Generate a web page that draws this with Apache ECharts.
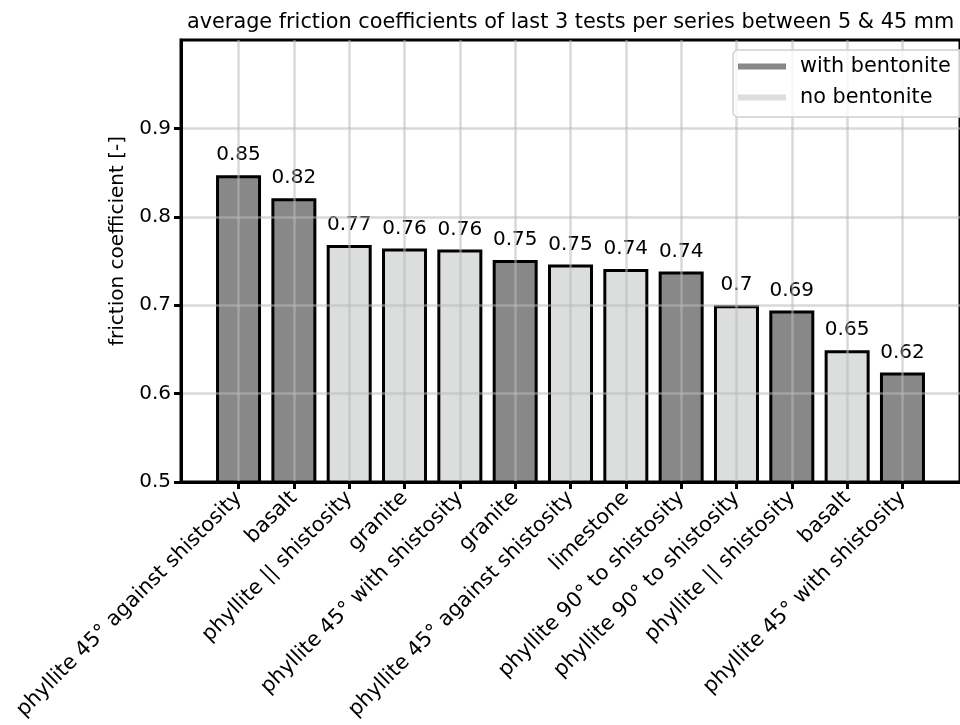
<!DOCTYPE html>
<html>
<head>
<meta charset="utf-8">
<script src="https://cdn.jsdelivr.net/npm/echarts@6/dist/echarts.min.js"></script>
<style>html,body{margin:0;padding:0;background:#fff;}#c{width:960px;height:725px;}</style>
</head>
<body>
<div id="c"></div>
<script>
const categories = [
  "phyllite 45° against shistosity", "basalt", "phyllite || shistosity", "granite",
  "phyllite 45° with shistosity", "granite", "phyllite 45° against shistosity", "limestone",
  "phyllite 90° to shistosity", "phyllite 90° to shistosity", "phyllite || shistosity", "basalt",
  "phyllite 45° with shistosity"
];
const values = [0.847, 0.821, 0.768, 0.764, 0.763, 0.751, 0.746, 0.741, 0.738, 0.700, 0.694, 0.649, 0.624];
const withBentonite = [true, true, false, false, false, true, false, false, true, false, true, false, true];
const yTicks = [0.5, 0.6, 0.7, 0.8, 0.9];
const titleText = "average friction coefficients of last 3 tests per series between 5 & 45 mm";
const seriesNames = ["with bentonite", "no bentonite"];

const FONT = "DejaVu Sans";
const FS = 20;
const FSL = 20.8;
const GRIDC = "rgba(185,185,185,0.55)";
const tickIdx = categories.map((c, i) => i);

const darkData = [], lightData = [];
values.forEach((v, i) => {
  if (withBentonite[i]) darkData.push([i, v]); else lightData.push([i, v]);
});

const labelCfg = {
  show: true, position: "top", distance: 10, color: "#000",
  fontFamily: FONT, fontSize: FS,
  formatter: p => String(Number(p.value[1].toFixed(2)))
};

const chart = echarts.init(document.getElementById("c"), null, {renderer: "canvas"});
chart.setOption({
  animation: false,
  backgroundColor: "#fff",
  textStyle: {fontFamily: FONT},
  title: {
    text: titleText, left: 187, top: 12, padding: 0,
    textStyle: {fontFamily: FONT, fontSize: FSL, fontWeight: "normal", color: "#000"}
  },
  legend: {
    data: seriesNames, orient: "vertical", left: 733, top: 50,
    padding: [6, 30, 9, 5], itemGap: 10,
    backgroundColor: "rgba(255,255,255,0.8)", borderColor: "#d0d0d0", borderWidth: 1.5, borderRadius: 5,
    icon: "rect", itemWidth: 48, itemHeight: 6,
    itemStyle: {borderWidth: 0},
    textStyle: {fontFamily: FONT, fontSize: FSL, color: "#000", padding: [0, 0, 0, 9]}
  },
  grid: {left: 181, top: 40, width: 789, height: 442, show: true, borderColor: "#000", borderWidth: 3, containLabel: false},
  xAxis: {
    type: "value", min: -1.04, max: 13.04, z: 3,
    axisLine: {show: true, onZero: false, lineStyle: {color: "#000", width: 3}},
    axisTick: {show: true, customValues: tickIdx, length: 7, lineStyle: {color: "#000", width: 3}},
    axisLabel: {
      customValues: tickIdx, rotate: 45, margin: 13, color: "#000",
      fontFamily: FONT, fontSize: FSL,
      formatter: v => categories[Math.round(v)]
    },
    splitLine: {show: true, lineStyle: {color: GRIDC, width: 2.5}}
  },
  yAxis: {
    type: "value", min: 0.5, max: 1.0, z: 3,
    name: "friction coefficient [-]", nameLocation: "middle", nameGap: 52, nameRotate: 90,
    nameTextStyle: {fontFamily: FONT, fontSize: FS, color: "#000", padding: [0, 0, 0, 40]},
    axisLine: {show: true, onZero: false, lineStyle: {color: "#000", width: 3}},
    axisTick: {show: true, customValues: yTicks, length: 7, lineStyle: {color: "#000", width: 3}},
    axisLabel: {
      customValues: yTicks, color: "#000", fontFamily: FONT, fontSize: FS, margin: 10,
      formatter: v => String(Number(v.toFixed(1)))
    },
    splitLine: {show: true, lineStyle: {color: GRIDC, width: 2.5}}
  },
  series: [
    {
      name: seriesNames[0], type: "bar", data: darkData, barWidth: 45, barGap: "-100%",
      itemStyle: {color: "#888888", borderColor: "#000", borderWidth: 3},
      label: labelCfg
    },
    {
      name: seriesNames[1], type: "bar", data: lightData, barWidth: 45, barGap: "-100%",
      itemStyle: {color: "#dcdedd", borderColor: "#000", borderWidth: 3},
      label: labelCfg
    }
  ]
});
</script>
</body>
</html>
